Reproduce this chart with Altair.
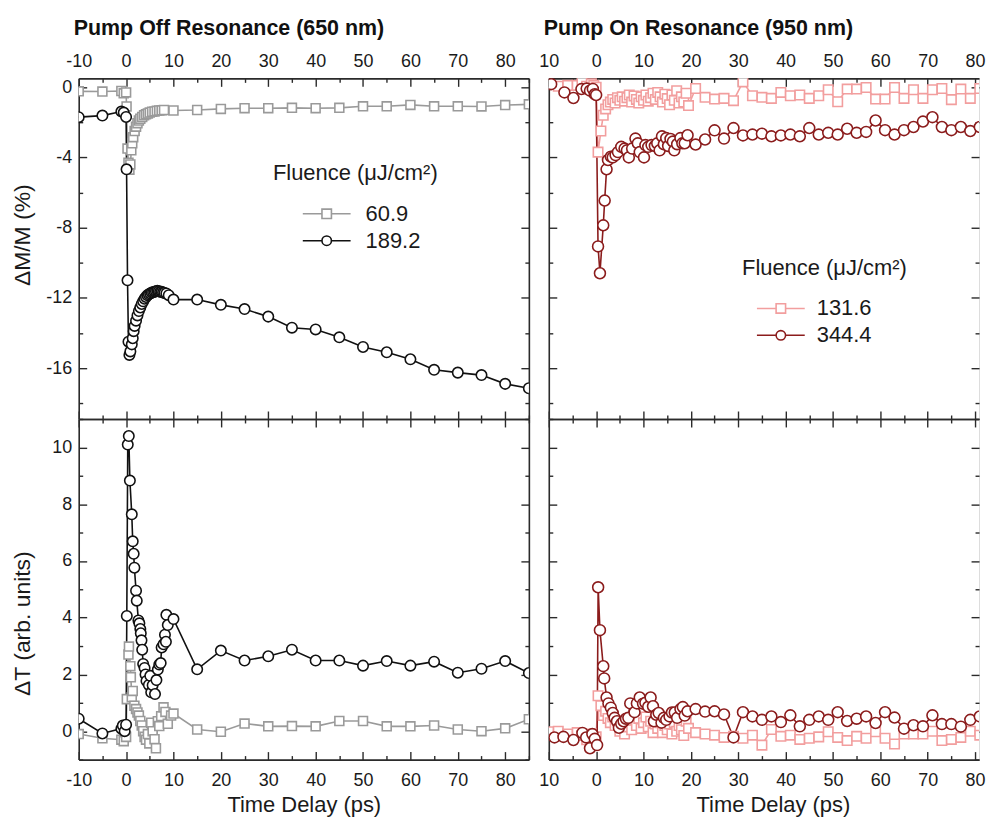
import altair as alt
import pandas as pd

FONT = "Liberation Sans"
TXT = "#1a1a1a"
AXC = "#2b2b2b"

GRAY = "#9a9a9a"
BLACK = "#111111"
PINK = "#f29e9e"
DARKRED = "#8b1c1c"

# ---------------- data ----------------
off_late_t = [10, 15, 20, 25, 30, 35, 40, 45, 50, 55, 60, 65, 70, 75, 80, 85]
on_late_t = [21, 23, 25, 27, 29, 31, 33, 35, 37, 39, 41, 43, 45, 47, 49, 51, 53,
             55, 57, 59, 61, 63, 65, 67, 69, 71, 73, 75, 77, 79, 81, 83, 85]

# Pump off resonance (650 nm) -- dM/M (%)
off_m_lo_t = [-10, -5, -1, -0.5, 0, 0.1, 0.3, 0.5, 0.7, 0.9, 1.1, 1.3, 1.5, 1.8, 2.1,
              2.4, 2.7, 3.0, 3.4, 3.8, 4.2, 4.6, 5.0, 5.5, 6.0, 6.5, 7.0, 7.5, 8.0] + off_late_t
off_m_lo_v = [-0.24, -0.25, -0.22, -0.35, -0.30, -1.10, -3.50, -4.30, -4.70, -4.40, -3.60,
              -3.20, -2.85, -2.50, -2.25, -2.05, -1.90, -1.80, -1.70, -1.60, -1.55, -1.50,
              -1.45, -1.40, -1.38, -1.35, -1.33, -1.32, -1.30,
              -1.33, -1.30, -1.24, -1.20, -1.20, -1.18, -1.20, -1.18, -1.09, -1.09, -1.01,
              -1.09, -1.09, -1.10, -1.02, -0.98]
off_m_hi_t = [-10, -5, -1, -0.5, 0, 0.1, 0.3, 0.5, 0.7, 0.9, 1.2, 1.4, 1.6, 1.8, 2.1, 2.4,
              2.7, 3.0, 3.3, 3.6, 3.9, 4.2, 4.5, 4.8, 5.1, 5.4, 5.7, 6.0, 6.3, 6.6, 6.9,
              7.2, 7.5, 7.8, 8.1, 8.5, 9.0] + off_late_t
off_m_hi_v = [-1.71, -1.62, -1.39, -1.45, -1.70, -4.68, -11.0, -14.5, -15.25, -15.05,
              -14.65, -14.3, -13.9, -13.6, -13.3, -13.0, -12.75, -12.55, -12.35, -12.2,
              -12.05, -11.95, -11.85, -11.8, -11.75, -11.7, -11.68, -11.65, -11.62, -11.6,
              -11.62, -11.65, -11.66, -11.7, -11.72, -11.75, -11.85,
              -12.1, -12.1, -12.4, -12.64, -13.07, -13.7, -13.8, -14.25, -14.8, -15.1,
              -15.5, -16.1, -16.26, -16.4, -16.9, -17.15]

# Pump off resonance (650 nm) -- dT (arb. units)
off_t_lo_t = [-10, -5, -1, -0.5, 0, 0.15, 0.5, 0.6, 0.9, 1.0, 1.2, 1.4, 1.75, 2.1, 2.4,
              2.7, 3.0, 3.3, 3.6, 3.9, 4.2, 4.6, 4.9, 5.3, 5.6, 6.0, 6.3, 6.7, 7.0, 7.4,
              7.9, 8.3, 8.8, 9.5] + off_late_t
off_t_lo_v = [-0.1, -0.25, -0.3, -0.35, -0.2, 1.13, 2.7, 2.98, 2.29, 1.9, 1.2, 1.42, 0.9,
              0.78, 0.66, 0.55, 0.36, 0.2, 0.0, -0.2, -0.3, -0.1, -0.43, 0.3, 0.0, -0.28,
              -0.6, 0.35, 0.18, 0.53, 0.84, 0.68, 0.26, 0.55,
              0.62, 0.06, -0.02, 0.27, 0.17, 0.18, 0.17, 0.36, 0.36, 0.17, 0.17, 0.2,
              0.06, 0.0, 0.1, 0.42]
off_t_hi_t = [-10, -5, -1, -0.7, -0.3, 0, 0.15, 0.35, 0.57, 0.8, 1.2, 1.4, 1.6, 1.75, 2.1,
              2.25, 2.6, 2.8, 3.0, 3.1, 3.25, 3.4, 3.6, 3.9, 4.1, 4.3, 4.8, 5.1, 5.3, 5.6,
              6.1, 6.4, 6.7, 7.0, 7.3, 7.5, 7.9, 8.2, 8.4, 8.5, 8.8] + off_late_t
off_t_hi_v = [0.44, -0.08, 0.09, 0.2, 0.0, 0.23, 4.06, 10.1, 10.4, 8.83, 7.64, 6.69, 6.25,
              5.76, 4.95, 4.6, 3.9, 3.8, 3.6, 3.45, 3.2, 2.87, 2.37, 2.23, 2.0, 1.77, 1.63,
              1.95, 1.37, 1.62, 1.31, 1.8, 2.17, 2.35, 2.4, 2.95, 3.06, 3.4, 3.15, 4.1,
              3.74,
              3.95, 2.18, 2.84, 2.49, 2.64, 2.87, 2.49, 2.49, 2.31, 2.47, 2.31, 2.45, 2.06,
              2.2, 2.47, 2.05]

# Pump on resonance (950 nm)
on_lo_t = [-10, -8, -6, -4, -3, -2, -1, -0.5, 0, 0.4, 1.0, 1.5, 2.0, 2.5, 3.0, 3.5, 4.0,
           4.5, 5.0, 5.5, 6.0, 6.5, 7.0, 7.5, 8.0, 8.5, 9.0, 9.5, 10.0, 10.5, 11.0, 11.5,
           12.0, 12.5, 13.0, 13.5, 14.0, 14.5, 15.0, 15.5, 16.0, 16.5, 17.0, 17.5, 18.0,
           18.5, 19.0, 19.5] + on_late_t
on_m_lo_v = [0.15, 0.05, 0.1, 0.1, 0.3, 0.05, 0.2, 0.1, 0.0,
             -3.7, -2.5, -1.6, -1.24, -1.0, -0.85, -0.7, -0.9, -0.6, -0.75, -0.55, -0.8,
             -0.6, -0.45, -0.85, -0.5, -0.7, -0.9, -0.55, -0.75, -0.45, -0.8, -0.6, -0.35,
             -0.7, -0.3, -0.55, -0.85, -0.4, -0.65, -1.0, -0.45, -0.75, -0.2, -0.9, -0.55,
             -0.85, -0.35, -1.05,
             -0.08, -0.58, -0.68, -0.64, -0.77, 0.3, -0.49, -0.58, -0.64, -0.30, -0.49,
             -0.45, -0.64, -0.49, -0.15, -0.83, -0.11, -0.11, -0.02, -0.68, -0.68, -0.02,
             -0.64, -0.15, -0.64, -0.15, -0.08, -0.71, -0.11, -0.64, -0.08, -0.64, -0.3]
on_t_lo_v = [-0.02, 0.0, -0.1, -0.05, -0.15, -0.3, -0.1, -0.25, -0.2,
             1.25, 0.9, 0.55, 0.7, 0.45, 0.3, 0.5, 0.2, 0.35, 0.0, 0.25, -0.1, 0.15, 0.3,
             0.05, 0.4, 0.2, 0.45, 0.1, 0.3, 0.5, 0.15, 0.35, -0.05, 0.25, 0.1, 0.3, -0.05,
             0.2, 0.05, 0.25, -0.1, 0.3, 0.0, 0.2, 0.05, -0.15, 0.35, 0.1,
             -0.05, -0.1, -0.14, -0.22, -0.18, -0.25, -0.14, -0.49, 0.06, -0.18, -0.14,
             -0.29, -0.25, -0.2, -0.02, -0.22, -0.33, -0.18, -0.25, -0.02, -0.25, -0.45,
             -0.1, -0.1, -0.1, 0.0, -0.33, -0.29, -0.22, 0.0, -0.14, -0.18, -0.1]

on_m_hi_t = [-9.5, -6.7, -4.8, -3.1, -2.0, -1.3, -0.7, -0.3, 0.0, 0.4, 0.8, 1.5, 1.8, 2.2,
             2.5, 3.1, 3.5, 4.1, 4.6, 5.3, 6.0, 6.5, 6.9, 7.6, 8.3, 8.8, 9.2, 10.1, 10.4,
             11.0, 11.7, 12.4, 12.9, 13.4, 13.9, 14.3, 14.8, 15.2, 15.7, 16.2, 16.5, 17.1,
             17.8, 18.2, 18.7, 19.3] + on_late_t
on_m_hi_v = [0.17, -0.3, -0.62, -0.11, -0.08, -0.2, -0.1, -0.4, -0.45,
             -9.07, -10.6, -7.87, -6.46, -4.68, -4.15, -3.96, -4.0, -3.87, -3.7, -3.4, -3.5,
             -3.6, -4.0, -3.5, -2.93, -3.2, -3.7, -4.0, -3.3, -3.4, -3.3, -3.35, -3.2, -3.6,
             -2.8, -3.25, -2.9, -3.35, -2.95, -3.1, -3.6, -3.25, -2.9, -3.2, -3.2, -2.74,
             -3.27, -2.98, -2.46, -2.93, -2.33, -2.75, -2.7, -2.65, -2.8, -2.75, -2.7, -2.8,
             -2.33, -2.7, -2.6, -2.7, -2.37, -2.6, -2.55, -1.9, -2.45, -2.7, -2.45, -2.27,
             -1.96, -1.71, -2.27, -2.45, -2.27, -2.5, -2.27, -2.5, -2.4]
on_t_hi_t = [-8.8, -6.9, -4.8, -2.9, -2.1, -1.3, -0.8, -0.3, 0.2, 0.42, 0.8, 1.5, 1.7, 2.2,
             2.6, 3.1, 3.5, 3.9, 4.4, 4.8, 5.3, 5.8, 6.3, 6.8, 7.2, 8.1, 8.6, 9.2, 9.9,
             10.4, 11.0, 11.5, 12.0, 12.2, 12.7, 13.2, 13.8, 14.3, 14.8, 15.5, 16.0, 16.6,
             17.1, 17.8, 18.3, 18.7, 19.3] + on_late_t
on_t_hi_v = [-0.22, -0.2, -0.31, -0.06, -0.22, -0.6, -0.1, -0.27, -0.49,
             5.07, 3.56, 2.29, 1.86, 1.19, 0.98, 0.83, 0.64, 0.47, 0.35, 0.12, 0.26, 0.35,
             0.44, 0.47, 0.98, 0.67, 0.98, 1.19, 0.97, 1.0, 0.86, 1.19, 0.88, 0.35, 0.58,
             0.64, 0.3, 0.47, 0.4, 0.52, 0.66, 0.66, 0.47, 0.78, 0.85, 0.55, 0.7,
             0.78, 0.69, 0.7, 0.59, -0.22, 0.67, 0.52, 0.4, 0.52, 0.32, 0.56, 0.17, 0.4,
             0.52, 0.4, 0.67, 0.36, 0.44, 0.52, 0.29, 0.67, 0.48, 0.09, 0.21, 0.17, 0.56,
             0.25, 0.25, 0.16, 0.4, 0.52, 0.06, 0.3]

off_names = ["60.9", "189.2"]
on_names = ["131.6", "344.4"]

x_major = [-10, 0, 10, 20, 30, 40, 50, 60, 70, 80]
x_minor = [-5, 5, 15, 25, 35, 45, 55, 65, 75, 85]
m_major = [0, -4, -8, -12, -16]
m_minor = [-2, -6, -10, -14, -18]
t_major = [0, 2, 4, 6, 8, 10]
t_minor = [-1, 1, 3, 5, 7, 9, 11]

# legend glyphs: a line with the marker in the middle
SQ_PATH = "M-4.8,0H-0.95M0.95,0H4.8M-0.95,-0.95H0.95V0.95H-0.95Z"
CI_PATH = ("M-4.8,0H-0.95M0.95,0H4.8M-0.95,0A0.95,0.95,0,1,0,0.95,0"
           "A0.95,0.95,0,1,0,-0.95,0Z")

W_L, W_R, H = 452, 432, 342
X_DOM_L = [-10, 85]
X_DOM_R = [-10, 80.84]


def make_axis(orient, values, size, labels, label_pad=0, title=None, title_kw=None,
              label_expr="'' + datum.value", title_size=23):
    kw = dict(orient=orient, values=values, tickSize=size, offset=-size, domain=False,
              grid=False, ticks=True, tickColor=AXC, tickWidth=1.4, labels=labels,
              title=title)
    if labels:
        kw.update(labelFont=FONT, labelFontSize=18, labelColor=TXT, labelPadding=label_pad,
                  labelFlush=False, labelOverlap=False, labelExpr=label_expr)
    if title:
        kw.update(titleFont=FONT, titleFontSize=title_size, titleFontWeight="normal",
                  titleColor=TXT)
        if title_kw:
            kw.update(title_kw)
    return alt.Axis(**kw)


def frame_axis(orient):
    return alt.Axis(orient=orient, domain=True, domainColor=AXC, domainWidth=1.6,
                    ticks=False, labels=False, grid=False, title=None, offset=0)


def series(t, v, color, shape, size, sw):
    return dict(df=pd.DataFrame({"t": t, "v": v}), color=color, shape=shape, size=size,
                sw=sw)


def panel(ser_a, ser_b, ydom, ymaj, ymin, row, col, ytitle=None, ytitle_kw=None,
          xtitle_kw=None, title=None, legend=None):
    xexpr = ("datum.value == -10 ? '10' : '' + datum.value" if col == 1
             else "'' + datum.value")
    ax_bmaj = make_axis("bottom", x_major, 8, row == 1, 12,
                        "Time Delay (ps)" if row == 1 else None, xtitle_kw, xexpr,
                        title_size=22)
    ax_bmin = make_axis("bottom", x_minor, 4, False)
    ax_tmaj = make_axis("top", x_major, 8, row == 0, 8, None, None, xexpr)
    ax_tmin = make_axis("top", x_minor, 4, False)
    ax_lmaj = make_axis("left", ymaj, 8, col == 0, 7, ytitle, ytitle_kw)
    ax_lmin = make_axis("left", ymin, 4, False)
    ax_rmaj = make_axis("right", ymaj, 8, False)
    ax_rmin = make_axis("right", ymin, 4, False)
    xs = alt.Scale(domain=X_DOM_L if col == 0 else X_DOM_R, nice=False, zero=False)
    ys = alt.Scale(domain=ydom, nice=False, zero=False)

    def enc(ax_x, ax_y):
        return dict(x=alt.X("t:Q", scale=xs, axis=ax_x),
                    y=alt.Y("v:Q", scale=ys, axis=ax_y))

    layers = []
    # frame drawn by axis domains (the right panels run off the page on the right)
    layers.append(alt.Chart(ser_a["df"]).mark_point(opacity=0, clip=True).encode(
        **enc(frame_axis("bottom"), frame_axis("left"))))
    if col == 0:
        layers.append(alt.Chart(ser_a["df"]).mark_point(opacity=0, clip=True).encode(
            **enc(frame_axis("top"), frame_axis("right"))))
    else:
        layers.append(alt.Chart(ser_a["df"]).mark_point(opacity=0, clip=True).encode(
            x=alt.X("t:Q", scale=xs, axis=frame_axis("top")),
            y=alt.Y("v:Q", scale=ys, axis=None)))
    for s, axx, axy in [(ser_a, ax_bmaj, ax_lmaj), (ser_b, ax_bmin, ax_lmin)]:
        layers.append(alt.Chart(s["df"]).mark_line(color=s["color"], strokeWidth=1.6,
                                                    clip=True).encode(**enc(axx, axy)))
    for s, axx, axy in [(ser_a, ax_tmaj, ax_rmaj), (ser_b, ax_tmin, ax_rmin)]:
        layers.append(alt.Chart(s["df"]).mark_point(
            shape=s["shape"], size=s["size"], filled=True, fill="white",
            stroke=s["color"], strokeWidth=s["sw"], opacity=1, clip=True
        ).encode(**enc(axx, axy)))
    if legend:
        names, colors, lx, ly, soff, loff = legend
        leg = alt.Legend(title="Fluence (\u03bcJ/cm\u00b2)", orient="none", legendX=lx,
                         legendY=ly, symbolSize=100, symbolStrokeWidth=1.6,
                         symbolOffset=soff, labelOffset=loff, symbolOpacity=1,
                         labelFont=FONT, labelFontSize=22, labelColor=TXT,
                         titleFont=FONT, titleFontSize=22, titleFontWeight="normal",
                         titleColor=TXT, titlePadding=18, rowPadding=5, padding=0)
        ldf = pd.DataFrame({"series": names})
        layers.append(alt.Chart(ldf).mark_point(opacity=0, filled=False).encode(
            color=alt.Color("series:N", scale=alt.Scale(domain=names, range=colors),
                            legend=leg),
            shape=alt.Shape("series:N",
                            scale=alt.Scale(domain=names, range=[SQ_PATH, CI_PATH]),
                            legend=leg)))
    ch = alt.layer(*layers).resolve_axis(x="independent", y="independent")
    props = dict(width=W_L if col == 0 else W_R, height=H)
    if title:
        props["title"] = alt.TitleParams(text=title, anchor="start", frame="group",
                                         fontSize=21.5, fontWeight="bold", font=FONT,
                                         color="#111111", offset=13, dx=-5)
    return ch.properties(**props)


tl = panel(series(off_m_lo_t, off_m_lo_v, GRAY, "square", 80, 1.6),
           series(off_m_hi_t, off_m_hi_v, BLACK, "circle", 110, 1.6),
           [-18.9, 0.5], m_major, m_minor, 0, 0,
           ytitle="\u0394M/M (%)", ytitle_kw=dict(titleX=-52, titleY=157),
           title="Pump Off Resonance (650 nm)",
           legend=(off_names, [GRAY, BLACK], 195, 85, 43, 28))
tr = panel(series(on_lo_t, on_m_lo_v, PINK, "square", 90, 1.6),
           series(on_m_hi_t, on_m_hi_v, DARKRED, "circle", 120, 1.6),
           [-18.9, 0.5], m_major, m_minor, 0, 1,
           title="Pump On Resonance (950 nm)",
           legend=(on_names, [PINK, DARKRED], 194, 180, 28, 25))
bl = panel(series(off_t_lo_t, off_t_lo_v, GRAY, "square", 80, 1.6),
           series(off_t_hi_t, off_t_hi_v, BLACK, "circle", 110, 1.6),
           [-1, 11], t_major, t_minor, 1, 0,
           ytitle="\u0394T (arb. units)", ytitle_kw=dict(titleX=-52, titleY=205),
           xtitle_kw=dict(titlePadding=5))
br = panel(series(on_lo_t, on_t_lo_v, PINK, "square", 90, 1.6),
           series(on_t_hi_t, on_t_hi_v, DARKRED, "circle", 120, 1.6),
           [-1, 11], t_major, t_minor, 1, 1,
           xtitle_kw=dict(titlePadding=5, titleX=225))

chart = alt.concat(tl, tr, bl, br, columns=2, spacing={"row": 0, "column": 20},
                   bounds="flush").resolve_scale(
    color="independent", shape="independent"
).properties(
    padding={"left": 3, "top": 8, "right": 0, "bottom": 0}, background="white"
).configure_view(strokeWidth=0).configure(font=FONT)

chart.save("out.html", embed_options={"renderer": "svg", "actions": False})
